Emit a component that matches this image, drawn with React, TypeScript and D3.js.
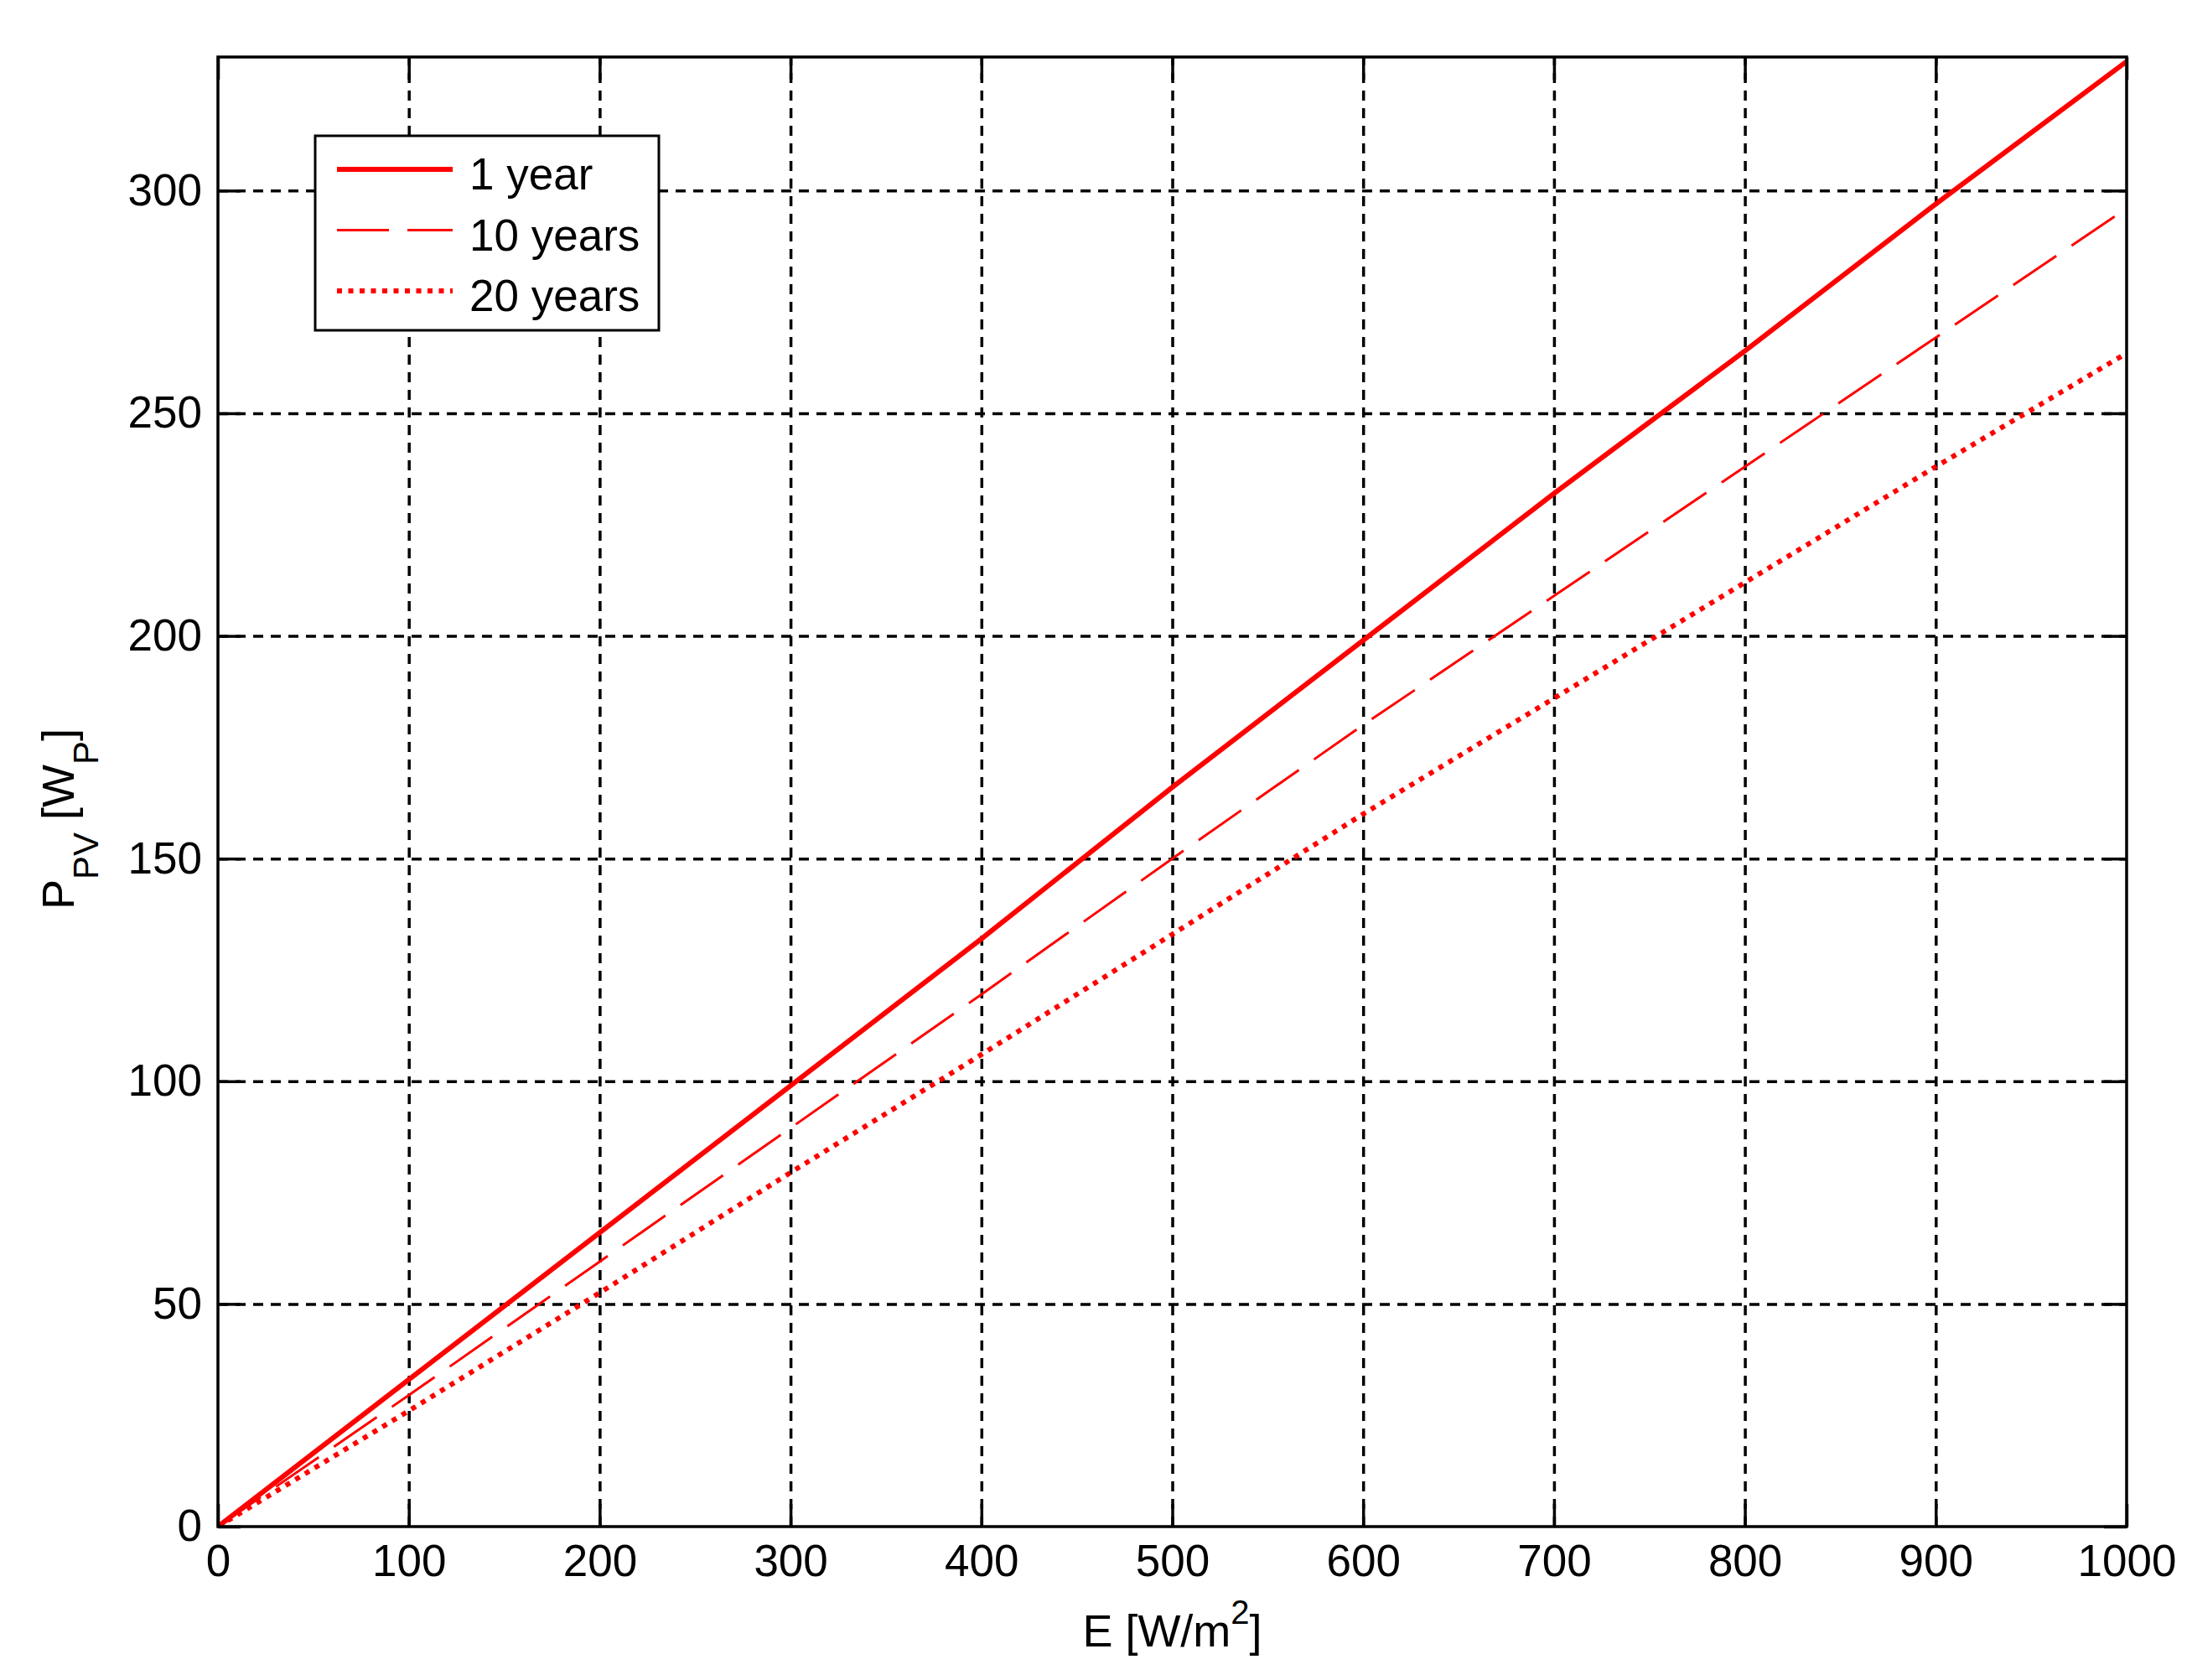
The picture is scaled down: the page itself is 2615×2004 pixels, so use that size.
import React, { useRef, useEffect } from 'react';
import * as d3 from 'd3';

// Irradiance E [W/m2] and PV power after 1, 10 and 20 years [Wp]
const E_VALUES = [0, 100, 200, 300, 400, 500, 600, 700, 800, 900, 1000];
const P_1_YEAR = [0, 33, 66, 99, 132, 166, 199, 232, 264, 297, 329];
const P_10_YEARS = [0, 29.5, 59.5, 89.5, 119.5, 150, 180, 209, 238, 267, 296];
const P_20_YEARS = [0, 26, 52.5, 79.5, 106, 133, 160, 186, 212, 238, 263.5];

const SERIES_LABELS = ['1 year', '10 years', '20 years'];
const X_TICKS = [0, 100, 200, 300, 400, 500, 600, 700, 800, 900, 1000];
const Y_TICKS = [0, 50, 100, 150, 200, 250, 300];

const FONT = '"Liberation Sans", Arial, sans-serif';

const App: React.FC = () => {
  const svgRef = useRef<SVGSVGElement | null>(null);

  useEffect(() => {
    if (!svgRef.current) return;
    document.body.style.margin = '0';

    const width = 2615;
    const height = 2004;
    const margin = { top: 68, right: 78, bottom: 183, left: 260 };
    const innerW = width - margin.left - margin.right;
    const innerH = height - margin.top - margin.bottom;

    const svg = d3.select(svgRef.current);
    svg.selectAll('*').remove();
    svg.attr('width', width).attr('height', height).attr('viewBox', `0 0 ${width} ${height}`);

    svg.append('rect').attr('width', width).attr('height', height).attr('fill', '#fff');

    const x = d3.scaleLinear().domain([0, 1000]).range([0, innerW]);
    const y = d3.scaleLinear().domain([0, 330]).range([innerH, 0]);
    const fmt = d3.format('d');

    const g = svg.append('g').attr('transform', `translate(${margin.left},${margin.top})`);

    // grid
    const gridX = g.append('g')
      .attr('transform', `translate(0,${innerH})`)
      .call(d3.axisBottom(x).tickValues(X_TICKS.filter(v => v > 0 && v < 1000)).tickSize(-innerH).tickFormat(() => ''));
    const gridY = g.append('g')
      .call(d3.axisLeft(y).tickValues(Y_TICKS.filter(v => v > 0)).tickSize(-innerW).tickFormat(() => ''));
    [gridX, gridY].forEach(gr => {
      gr.select('.domain').remove();
      gr.selectAll('line')
        .attr('stroke', '#000')
        .attr('stroke-width', 3.5)
        .attr('stroke-dasharray', '12,9');
    });

    // series
    const clipId = 'plot-clip';
    svg.append('defs').append('clipPath').attr('id', clipId)
      .append('rect').attr('width', innerW).attr('height', innerH);

    const series = [
      { values: P_1_YEAR, width: 6, dash: null as string | null },
      { values: P_10_YEARS, width: 3, dash: '62,22' },
      { values: P_20_YEARS, width: 6, dash: '6,7.5' },
    ];

    const line = d3.line<number>()
      .x((_, i) => x(E_VALUES[i]))
      .y(d => y(d));

    const lines = g.append('g').attr('clip-path', `url(#${clipId})`);
    series.forEach(s => {
      lines.append('path')
        .datum(s.values)
        .attr('d', line)
        .attr('fill', 'none')
        .attr('stroke', '#ff0000')
        .attr('stroke-width', s.width)
        .attr('stroke-dasharray', s.dash);
    });

    // ticks (inward on all four sides) and labels
    const tickLen = 27;
    const styleAxis = (ax: d3.Selection<SVGGElement, unknown, null, undefined>) => {
      ax.select('.domain').remove();
      ax.selectAll('line').attr('stroke', '#000').attr('stroke-width', 3.5);
      ax.selectAll('text').attr('font-family', FONT).attr('font-size', 53).attr('fill', '#000');
    };

    styleAxis(g.append('g')
      .attr('transform', `translate(0,${innerH})`)
      .call(d3.axisBottom(x).tickValues(X_TICKS).tickFormat(d => fmt(d as number))
        .tickSizeInner(-tickLen).tickSizeOuter(0).tickPadding(21)));
    styleAxis(g.append('g')
      .call(d3.axisTop(x).tickValues(X_TICKS).tickSizeInner(-tickLen).tickSizeOuter(0).tickFormat(() => '')));
    styleAxis(g.append('g')
      .call(d3.axisLeft(y).tickValues(Y_TICKS).tickFormat(d => fmt(d as number))
        .tickSizeInner(-tickLen).tickSizeOuter(0).tickPadding(19)));
    styleAxis(g.append('g')
      .attr('transform', `translate(${innerW},0)`)
      .call(d3.axisRight(y).tickValues(Y_TICKS).tickSizeInner(-tickLen).tickSizeOuter(0).tickFormat(() => '')));

    // box
    g.append('rect')
      .attr('width', innerW)
      .attr('height', innerH)
      .attr('fill', 'none')
      .attr('stroke', '#000')
      .attr('stroke-width', 3.5);

    // axis titles
    const xLabel = svg.append('text')
      .attr('x', margin.left + innerW / 2)
      .attr('y', 1964)
      .attr('text-anchor', 'middle')
      .attr('font-family', FONT)
      .attr('font-size', 54);
    xLabel.append('tspan').text('E [W/m');
    xLabel.append('tspan').attr('font-size', 40).attr('dy', -27).text('2');
    xLabel.append('tspan').attr('dy', 27).text(']');

    const yLabel = svg.append('text')
      .attr('transform', 'translate(88,977) rotate(-90)')
      .attr('text-anchor', 'middle')
      .attr('font-family', FONT)
      .attr('font-size', 54);
    yLabel.append('tspan').text('P');
    yLabel.append('tspan').attr('font-size', 42).attr('dy', 29).text('PV');
    yLabel.append('tspan').attr('dy', -29).text(' [W');
    yLabel.append('tspan').attr('font-size', 42).attr('dy', 29).text('P');
    yLabel.append('tspan').attr('dy', -29).text(']');

    // legend
    const legend = svg.append('g').attr('transform', 'translate(376,162)');
    legend.append('rect')
      .attr('width', 410)
      .attr('height', 232)
      .attr('fill', '#fff')
      .attr('stroke', '#000')
      .attr('stroke-width', 3);

    SERIES_LABELS.forEach((label, i) => {
      const rowY = 40 + i * 72.5;
      legend.append('line')
        .attr('x1', 26)
        .attr('x2', 164)
        .attr('y1', rowY)
        .attr('y2', rowY)
        .attr('stroke', '#ff0000')
        .attr('stroke-width', series[i].width)
        .attr('stroke-dasharray', series[i].dash);
      legend.append('text')
        .attr('x', 184)
        .attr('y', rowY + 24)
        .attr('font-family', FONT)
        .attr('font-size', 53)
        .text(label);
    });
  }, []);

  return (
    <svg ref={svgRef} style={{ position: 'absolute', left: 0, top: 0, display: 'block' }} />
  );
};

export default App;
